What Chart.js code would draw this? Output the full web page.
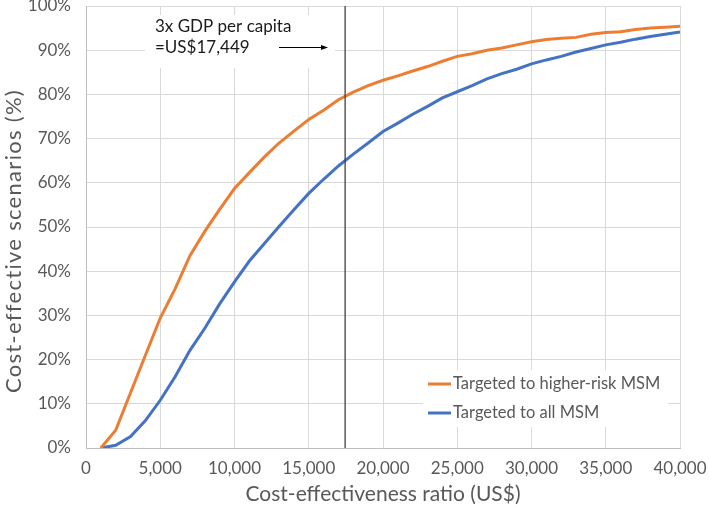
<!DOCTYPE html>
<html><head><meta charset="utf-8">
<script src="https://cdn.jsdelivr.net/npm/chart.js@4"></script>
<style>html,body{margin:0;padding:0;background:#fff}#wrap{width:709px;height:507px;position:relative}</style>
</head><body><div id="wrap"><canvas id="c" width="709" height="507"></canvas></div>
<script>
const costRatio = [1000,2000,3000,4000,5000,6000,7000,8000,9000,10000,11000,12000,13000,14000,15000,16000,17000,18000,19000,20000,21000,22000,23000,24000,25000,26000,27000,28000,29000,30000,31000,32000,33000,34000,35000,36000,37000,38000,39000,40000];
const higherRisk = [0,4,12.5,21,29.4,36,43.5,49,54,58.7,62.3,65.8,69,71.7,74.3,76.4,78.8,80.5,82,83.2,84.2,85.3,86.3,87.5,88.6,89.2,90,90.5,91.2,91.9,92.4,92.7,92.9,93.6,94,94.2,94.7,95,95.2,95.4];
const allMSM = [0,0.6,2.6,6.2,10.8,16.1,22.1,27.1,32.6,37.6,42.3,46.2,50.1,53.9,57.6,60.8,63.8,66.5,69,71.6,73.5,75.5,77.3,79.2,80.6,82,83.5,84.7,85.7,86.9,87.8,88.6,89.6,90.4,91.2,91.8,92.5,93.1,93.6,94.1];
const seriesNames = ["Targeted to higher-risk MSM","Targeted to all MSM"];
const threshold = 17449;
const annotationLines = ["3x GDP per capita","=US$17,449"];
const xTickStep = 5000, xMax = 40000, yMax = 100, yTickStep = 10;
const xTitle = "Cost-effectiveness ratio (US$)";
const yTitle = "Cost-effective scenarios (%)";

const FONT = "Lato, 'Open Sans', sans-serif";
const GRAY = "#595959";
const ORANGE = "#ED7D31", BLUE = "#4472C4";

const overlay = {
  id: 'overlay',
  afterDatasetsDraw(chart) {
    const ctx = chart.ctx, xs = chart.scales.x, ca = chart.chartArea;
    const tx = xs.getPixelForValue(threshold);
    ctx.save();
    // annotation box hiding grid
    ctx.fillStyle = "#fff";
    ctx.fillRect(145, 15, 190, 53);
    ctx.fillStyle = "#1a1a1a"; ctx.font = "17px " + FONT; ctx.textBaseline = "middle"; ctx.textAlign = "left";
    ctx.fillText(annotationLines[0], 155, 27);
    ctx.fillText(annotationLines[1], 155, 48);
    ctx.strokeStyle = "#000"; ctx.lineWidth = 1;
    ctx.beginPath(); ctx.moveTo(279, 47.5); ctx.lineTo(326, 47.5); ctx.stroke();
    ctx.beginPath(); ctx.moveTo(328, 47.5); ctx.lineTo(321, 45); ctx.lineTo(321, 50); ctx.closePath(); ctx.fillStyle = "#000"; ctx.fill();
    // threshold line
    ctx.strokeStyle = "#404040"; ctx.lineWidth = 1.3;
    ctx.beginPath(); ctx.moveTo(tx, ca.top); ctx.lineTo(tx, ca.bottom); ctx.stroke();
    // legend
    ctx.fillStyle = "#fff"; ctx.fillRect(423, 370, 245, 57);
    const items = [[ORANGE, seriesNames[0], 384], [BLUE, seriesNames[1], 413]];
    ctx.font = "16.5px " + FONT;
    items.forEach(([col, name, y]) => {
      ctx.strokeStyle = col; ctx.lineWidth = 3;
      ctx.beginPath(); ctx.moveTo(428, y); ctx.lineTo(451, y); ctx.stroke();
      ctx.fillStyle = GRAY; ctx.fillText(name, 453, y);
    });
    // y title
    ctx.translate(14, 241); ctx.rotate(-Math.PI / 2);
    ctx.font = "22px " + FONT; ctx.fillStyle = GRAY; ctx.textAlign = "center"; ctx.textBaseline = "middle";
    try { ctx.letterSpacing = "1.3px"; } catch (e) {}
    ctx.fillText(yTitle, 0, 0);
    ctx.restore();
  }
};

new Chart(document.getElementById('c'), {
  type: 'line',
  data: {
    datasets: [
      { label: seriesNames[0], data: costRatio.map((x,i)=>({x, y: higherRisk[i]})), borderColor: ORANGE, borderWidth: 3, pointRadius: 0, tension: 0, fill: false },
      { label: seriesNames[1], data: costRatio.map((x,i)=>({x, y: allMSM[i]})), borderColor: BLUE, borderWidth: 3, pointRadius: 0, tension: 0, fill: false }
    ]
  },
  options: {
    responsive: false, animation: false, devicePixelRatio: 1,
    layout: { padding: { top: 6, right: 29, left: 0, bottom: 0 } },
    plugins: { legend: { display: false }, tooltip: { enabled: false } },
    scales: {
      x: {
        type: 'linear', min: 0, max: xMax,
        ticks: { stepSize: xTickStep, color: GRAY, font: { family: FONT, size: 17 }, padding: 10, maxRotation: 0,
          callback: v => v.toLocaleString('en-US') },
        grid: { color: "#d9d9d9", lineWidth: 1, drawTicks: false },
        border: { color: "#bfbfbf" },
        title: { display: true, text: xTitle, color: GRAY, font: { family: FONT, size: 21 }, padding: { top: 3, bottom: 0 } },
        afterFit(s) { s.height = 59; s.paddingLeft = 0; s.paddingRight = 0; }
      },
      y: {
        min: 0, max: yMax,
        ticks: { stepSize: yTickStep, color: GRAY, font: { family: FONT, size: 17 }, padding: 15, callback: v => v + '%' },
        grid: { color: "#d9d9d9", lineWidth: 1, drawTicks: false },
        border: { color: "#bfbfbf" },
        title: { display: false, text: yTitle },
        afterFit(s) { s.width = 86; s.paddingTop = 0; s.paddingBottom = 0; }
      }
    }
  },
  plugins: [overlay]
});
</script></body></html>
